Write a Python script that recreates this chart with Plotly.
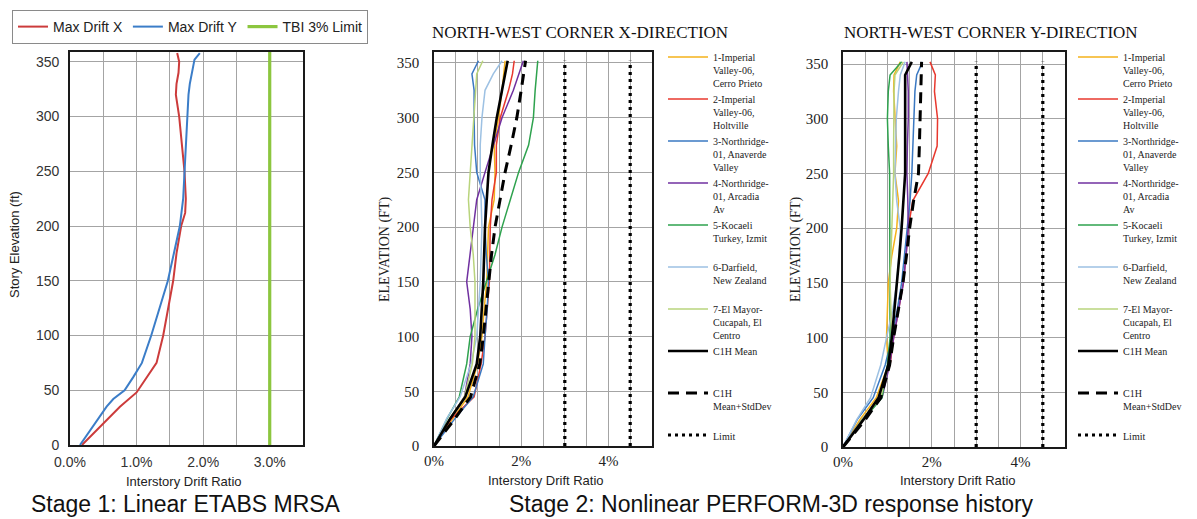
import plotly.graph_objects as go

# Reference image is 1197x519; the page body adds an 8px margin, so the figure
# is 8px smaller and all reference pixel positions are shifted by 8px.
REF_W, REF_H, OFF = 1197, 519, 8
W, H = REF_W - OFF, REF_H - OFF

# ---------------- Stage 1 data (Linear ETABS MRSA) ----------------
elev_x1 = [0, 20, 35, 48, 62, 75, 100, 125, 150, 175, 200, 212, 225, 250, 275, 300, 320, 330, 340, 350, 358]
drift_x1 = [0.18, 0.5, 0.75, 1.0, 1.15, 1.3, 1.4, 1.48, 1.55, 1.6, 1.67, 1.73, 1.74, 1.72, 1.68, 1.64, 1.59, 1.6, 1.63, 1.64, 1.61]
elev_y1 = [0, 20, 35, 42, 50, 62, 75, 100, 125, 150, 175, 200, 225, 250, 275, 300, 320, 330, 345, 352, 358]
drift_y1 = [0.15, 0.38, 0.55, 0.65, 0.82, 0.95, 1.08, 1.22, 1.35, 1.47, 1.56, 1.65, 1.7, 1.72, 1.75, 1.77, 1.78, 1.8, 1.84, 1.87, 1.95]
tbi_limit = 3.0
tbi_elev = [0, 359]
stage1_xticks = [0, 1, 2, 3]
stage1_xlabels = ["0.0%", "1.0%", "2.0%", "3.0%"]

# ---------------- Stage 2 data (Nonlinear PERFORM-3D) ----------------
elev2 = [0, 25, 45, 75, 100, 125, 150, 175, 200, 225, 250, 275, 300, 325, 340, 352]
record_names = [
    "1-Imperial<br>Valley-06,<br>Cerro Prieto",
    "2-Imperial<br>Valley-06,<br>Holtville",
    "3-Northridge-<br>01, Anaverde<br>Valley",
    "4-Northridge-<br>01, Arcadia<br>Av",
    "5-Kocaeli<br>Turkey, Izmit<br>\u00a0",
    "6-Darfield,<br>New Zealand<br>\u00a0",
    "7-El Mayor-<br>Cucapah, El<br>Centro",
    "C1H Mean<br>\u00a0<br>\u00a0",
    "C1H<br>Mean+StdDev<br>\u00a0",
]
limit_name = "Limit"
limit_values = [3.0, 4.5]
limit_top = 352
stage2_xticks = [0, 2, 4]
stage2_xlabels = ["0%", "2%", "4%"]

# X-direction drift ratios (%)
x_rec1 = [0, 0.44, 0.78, 1.0, 1.1, 1.15, 1.21, 1.23, 1.25, 1.38, 1.4, 1.38, 1.48, 1.56, 1.6, 1.63]
x_rec2 = [0, 0.4, 0.92, 1.08, 1.17, 1.22, 1.27, 1.28, 1.29, 1.33, 1.43, 1.43, 1.52, 1.71, 1.8, 1.84]
x_rec3 = [0, 0.48, 0.9, 1.13, 1.17, 1.22, 1.25, 1.2, 1.17, 1.17, 0.98, 0.93, 0.92, 0.92, 0.87, 1.02]
x_rec4 = [0, 0.37, 0.7, 0.83, 0.87, 0.83, 0.75, 0.83, 0.9, 0.98, 1.17, 1.36, 1.56, 1.82, 1.95, 2.05]
x_rec5 = [0, 0.3, 0.58, 0.75, 0.83, 1.0, 1.2, 1.4, 1.56, 1.75, 1.94, 2.17, 2.28, 2.32, 2.36, 2.38]
x_rec6 = [0, 0.29, 0.6, 0.85, 0.98, 1.02, 1.06, 1.08, 1.1, 1.08, 1.06, 1.06, 1.1, 1.17, 1.36, 1.56]
x_rec7 = [0, 0.37, 0.7, 0.88, 0.94, 0.94, 0.94, 0.9, 0.83, 0.79, 0.83, 0.87, 0.9, 0.95, 0.98, 1.12]
x_mean = [0, 0.37, 0.72, 0.98, 1.06, 1.1, 1.13, 1.15, 1.17, 1.21, 1.25, 1.34, 1.44, 1.56, 1.63, 1.69]
x_mean_sd = [0, 0.48, 0.84, 1.05, 1.13, 1.19, 1.25, 1.32, 1.4, 1.51, 1.63, 1.77, 1.9, 2.0, 2.05, 2.1]

# Y-direction drift ratios (%)
y_rec1 = [0, 0.38, 0.75, 1.02, 0.98, 1.0, 1.02, 1.1, 1.21, 1.25, 1.17, 1.21, 1.17, 1.14, 1.15, 1.29]
y_rec2 = [0, 0.46, 0.8, 1.06, 1.14, 1.25, 1.36, 1.42, 1.47, 1.57, 1.92, 2.12, 2.13, 2.06, 2.08, 1.96]
y_rec3 = [0, 0.32, 0.68, 0.95, 1.1, 1.22, 1.32, 1.38, 1.44, 1.51, 1.55, 1.57, 1.59, 1.62, 1.66, 1.79]
y_rec4 = [0, 0.42, 0.88, 1.05, 1.14, 1.25, 1.36, 1.42, 1.47, 1.46, 1.44, 1.45, 1.47, 1.47, 1.45, 1.44]
y_rec5 = [0, 0.46, 0.88, 1.0, 1.06, 1.06, 1.06, 1.06, 1.06, 1.05, 1.05, 1.02, 1.0, 1.02, 1.06, 1.32]
y_rec6 = [0, 0.31, 0.62, 0.85, 0.98, 1.12, 1.21, 1.26, 1.29, 1.21, 1.17, 1.18, 1.2, 1.25, 1.29, 1.4]
y_rec7 = [0, 0.42, 0.85, 1.02, 1.1, 1.08, 1.06, 1.08, 1.1, 1.12, 1.14, 1.14, 1.14, 1.15, 1.17, 1.36]
y_mean = [0, 0.46, 0.8, 1.02, 1.1, 1.16, 1.21, 1.27, 1.32, 1.36, 1.4, 1.4, 1.4, 1.4, 1.4, 1.55]
y_mean_sd = [0, 0.5, 0.85, 1.05, 1.14, 1.25, 1.35, 1.43, 1.5, 1.59, 1.7, 1.72, 1.74, 1.76, 1.77, 1.77]

x_series = [x_rec1, x_rec2, x_rec3, x_rec4, x_rec5, x_rec6, x_rec7, x_mean, x_mean_sd]
y_series = [y_rec1, y_rec2, y_rec3, y_rec4, y_rec5, y_rec6, y_rec7, y_mean, y_mean_sd]

# ---------------- styles ----------------
rec_colors = ["#f5b21a", "#e8382e", "#3a78c2", "#7030a0", "#2ea24e", "#9dc1e3", "#b9d47c", "#000000", "#000000"]
rec_widths = [1.5, 1.5, 1.5, 1.5, 1.5, 1.5, 1.5, 2.6, 3]
rec_dash = ["solid"] * 8 + ["11px,7px"]

SANS = "Liberation Sans, Arial, sans-serif"
SERIF = "Liberation Serif, Times New Roman, serif"
GRID = "#a4a4a4"

fig = go.Figure()

# Stage 1 traces
fig.add_trace(go.Scatter(x=drift_x1, y=elev_x1, mode="lines", name="Max Drift X",
                         line=dict(color="#cc3b3b", width=2), legend="legend", xaxis="x", yaxis="y"))
fig.add_trace(go.Scatter(x=drift_y1, y=elev_y1, mode="lines", name="Max Drift Y",
                         line=dict(color="#3b7dc8", width=2), legend="legend", xaxis="x", yaxis="y"))
fig.add_trace(go.Scatter(x=[tbi_limit] * len(tbi_elev), y=tbi_elev, mode="lines", name="TBI 3% Limit",
                         line=dict(color="#8cc63f", width=3.2), legend="legend", xaxis="x", yaxis="y"))


def limit_xy(values, top):
    xs, ys = [], []
    for v in values:
        xs += [v, v, None]
        ys += [0, top, None]
    return xs, ys


for series, ax, ay, lg in [(x_series, "x2", "y2", "legend2"), (y_series, "x3", "y3", "legend3")]:
    for i, vals in enumerate(series):
        fig.add_trace(go.Scatter(x=vals, y=elev2, mode="lines", name=record_names[i],
                                 line=dict(color=rec_colors[i], width=rec_widths[i], dash=rec_dash[i]),
                                 legend=lg, xaxis=ax, yaxis=ay))
    lx, ly = limit_xy(limit_values, limit_top)
    fig.add_trace(go.Scatter(x=lx, y=ly, mode="lines", name=limit_name,
                             line=dict(color="#000000", width=3.2, dash="3px,4px"),
                             legend=lg, xaxis=ax, yaxis=ay))


def px_x(p):
    return (p - OFF) / W


def px_y(p):
    return 1 - (p - OFF) / H


axis_common = dict(showline=True, mirror=True, linecolor="#1a1a1a", linewidth=1.6,
                   showgrid=True, gridcolor=GRID, gridwidth=1.3, zeroline=False, ticks="",
                   automargin=False)
minor_grid = dict(dtick=0.5, showgrid=True, gridcolor=GRID, gridwidth=1.3)

layout = dict(
    template="none",
    width=W, height=H, margin=dict(l=0, r=0, t=0, b=0, autoexpand=False),
    paper_bgcolor="white", plot_bgcolor="white",
    font=dict(family=SANS, color="#222"),
    xaxis=dict(domain=[px_x(70), px_x(303)], range=[0, 3.5], tickmode="array",
               tickvals=stage1_xticks, ticktext=stage1_xlabels, anchor="y", minor=minor_grid,
               tickfont=dict(family=SANS, size=14, color="#333"), ticklabelstandoff=3, **axis_common),
    yaxis=dict(domain=[px_y(445), px_y(52)], range=[0, 359], dtick=50, anchor="x",
               tickfont=dict(family=SANS, size=14, color="#333"), ticklabelstandoff=6, **axis_common),
    xaxis2=dict(domain=[px_x(434), px_x(652)], range=[0, 5], tickmode="array",
                tickvals=stage2_xticks, ticktext=stage2_xlabels, anchor="y2", minor=minor_grid,
                tickfont=dict(family=SERIF, size=15, color="#222"), **axis_common),
    yaxis2=dict(domain=[px_y(446), px_y(52)], range=[0, 360], dtick=50, anchor="x2",
                tickfont=dict(family=SERIF, size=15, color="#222"), ticklabelstandoff=10, **axis_common),
    xaxis3=dict(domain=[px_x(843), px_x(1065)], range=[0, 5], tickmode="array",
                tickvals=stage2_xticks, ticktext=stage2_xlabels, anchor="y3", minor=minor_grid,
                tickfont=dict(family=SERIF, size=15, color="#222"), **axis_common),
    yaxis3=dict(domain=[px_y(447), px_y(52)], range=[0, 361], dtick=50, anchor="x3",
                tickfont=dict(family=SERIF, size=15, color="#222"), ticklabelstandoff=10, **axis_common),
    legend=dict(orientation="h", x=px_x(12), y=px_y(10), xanchor="left", yanchor="top",
                bordercolor="#8a8a8a", borderwidth=1, bgcolor="white",
                font=dict(family=SANS, size=14, color="#222")),
    legend2=dict(x=px_x(663), y=px_y(44), xanchor="left", yanchor="top", valign="top",
                 itemwidth=40,
                 font=dict(family=SERIF, size=10, color="#222"), bgcolor="rgba(0,0,0,0)"),
    legend3=dict(x=px_x(1073), y=px_y(44), xanchor="left", yanchor="top", valign="top",
                 itemwidth=40,
                 font=dict(family=SERIF, size=10, color="#222"), bgcolor="rgba(0,0,0,0)"),
    showlegend=True,
)
fig.update_layout(**layout)

ann = []


def add_text(text, x, y, size, family, angle=0, xanchor="center", color="#222"):
    ann.append(dict(text=text, x=px_x(x), y=px_y(y), xref="paper", yref="paper", showarrow=False,
                    xanchor=xanchor, yanchor="middle", textangle=angle,
                    font=dict(family=family, size=size, color=color)))


add_text("Story Elevation (ft)", 15, 245, 13, SANS, angle=-90)
add_text("Interstory Drift Ratio", 184, 481, 13, SANS)
add_text("Stage 1: Linear ETABS MRSA", 186, 504, 23, SANS, color="#111")

add_text("NORTH-WEST CORNER X-DIRECTION", 430, 33, 17, SERIF, xanchor="left", color="#111")
add_text("ELEVATION (FT)", 385, 250, 14, SERIF, angle=-90)
add_text("Interstory Drift Ratio", 546, 480, 13, SANS)

add_text("NORTH-WEST CORNER Y-DIRECTION", 842, 33, 17, SERIF, xanchor="left", color="#111")
add_text("ELEVATION (FT)", 796, 250, 14, SERIF, angle=-90)
add_text("Interstory Drift Ratio", 958, 480, 13, SANS)

add_text("Stage 2: Nonlinear PERFORM-3D response history", 771, 504, 23, SANS, color="#111")

fig.update_layout(annotations=ann)
fig.write_html("out.html")
